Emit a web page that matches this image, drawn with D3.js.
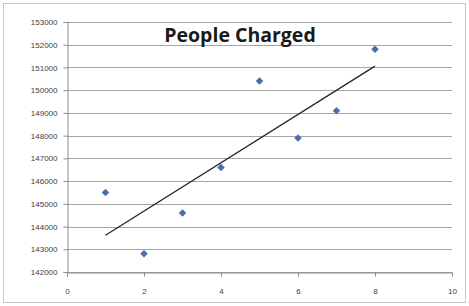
<!DOCTYPE html>
<html>
<head>
<meta charset="utf-8">
<script src="https://cdn.jsdelivr.net/npm/d3@7"></script>
<style>
  body { margin: 0; background: #fff; }
  svg { display: block; }
</style>
</head>
<body>
<div id="chart"></div>
<script>
// data
var years = [1, 2, 3, 4, 5, 6, 7, 8];
var charged = [145500, 142800, 144600, 146600, 150400, 147900, 149100, 151800];
var xTicks = [0, 2, 4, 6, 8, 10];
var yTicks = d3.range(142000, 153001, 1000);

var width = 469, height = 306;
var margin = {top: 22, right: 17, bottom: 34, left: 67};

var svg = d3.select('#chart').append('svg')
  .attr('width', width).attr('height', height);

// outer chart border
svg.append('rect')
  .attr('x', 3.5).attr('y', 3.5)
  .attr('width', width - 7).attr('height', height - 7)
  .attr('fill', '#fff').attr('stroke', '#c8c8c8');

var x = d3.scaleLinear().domain([0, 10]).range([margin.left, width - margin.right]);
var y = d3.scaleLinear().domain([142000, 153000]).range([height - margin.bottom, margin.top]);

// gridlines
svg.append('g').selectAll('line').data(yTicks).join('line')
  .attr('x1', x(0)).attr('x2', x(10))
  .attr('y1', function(d) { return Math.round(y(d)) + 0.5; })
  .attr('y2', function(d) { return Math.round(y(d)) + 0.5; })
  .attr('stroke', '#a6a6a6').attr('stroke-width', 1.2);

// axes
var yAxis = svg.append('g')
  .attr('transform', 'translate(' + (x(0) + 0.5) + ',0)')
  .call(d3.axisLeft(y).tickValues(yTicks).tickSize(4).tickPadding(6).tickFormat(d3.format('d')));
var xAxis = svg.append('g')
  .attr('transform', 'translate(0,' + (Math.round(y(142000)) + 0.5) + ')')
  .call(d3.axisBottom(x).tickValues(xTicks).tickSize(4).tickPadding(12));

[xAxis, yAxis].forEach(function(ax) {
  ax.select('.domain').attr('stroke', '#8c8c8c');
  ax.selectAll('.tick line').attr('stroke', '#8c8c8c');
  ax.selectAll('text').attr('fill', '#404040')
    .style('font-family', 'Liberation Sans, Arial, sans-serif').style('font-size', '8px');
});

// linear trend line (least squares from the data)
var mx = d3.mean(years), my = d3.mean(charged);
var sxy = d3.sum(years, function(v, i) { return (v - mx) * (charged[i] - my); });
var sxx = d3.sum(years, function(v) { return (v - mx) * (v - mx); });
var slope = sxy / sxx, icpt = my - slope * mx;
var x0 = d3.min(years), x1 = d3.max(years);
svg.append('line')
  .attr('x1', x(x0)).attr('y1', y(icpt + slope * x0))
  .attr('x2', x(x1)).attr('y2', y(icpt + slope * x1))
  .attr('stroke', '#262626').attr('stroke-width', 1.3);

// diamond markers
svg.append('g').selectAll('path').data(years).join('path')
  .attr('d', d3.symbol(d3.symbolDiamond2, 36))
  .attr('transform', function(d, i) { return 'translate(' + x(d) + ',' + y(charged[i]) + ')'; })
  .attr('fill', '#4a6fa8');

// title
svg.append('text')
  .attr('x', 240).attr('y', 42)
  .attr('text-anchor', 'middle')
  .style('font-family', 'Open Sans, Liberation Sans, sans-serif')
  .style('font-weight', 'bold').style('font-size', '19.5px')
  .attr('fill', '#1a1a1a')
  .text('People Charged');
</script>
</body>
</html>
